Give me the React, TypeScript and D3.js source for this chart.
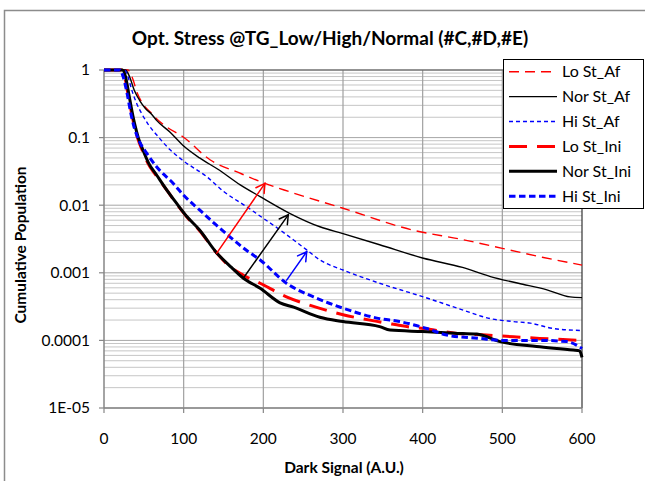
import React from "react";
import * as d3 from "d3";

type Pt = [number, number];

const title = "Opt. Stress @TG_Low/High/Normal (#C,#D,#E)";
const xTitle = "Dark Signal (A.U.)";
const yTitle = "Cumulative Population";
const xTicks = [0, 100, 200, 300, 400, 500, 600];
const yTickValues = [1, 0.1, 0.01, 0.001, 0.0001, 0.00001];
const yTickLabels = ["1", "0.1", "0.01", "0.001", "0.0001", "1E-05"];

const loStAf: Pt[] = [
  [0, 1], [30, 1], [35, 0.8], [42, 0.45], [50, 0.3], [58, 0.24], [64, 0.2], [80, 0.14],
  [99, 0.103], [133, 0.047], [170, 0.03], [202, 0.021], [233, 0.0158], [300, 0.009],
  [387, 0.0043], [450, 0.0031], [500, 0.0023], [550, 0.0017], [600, 0.0013],
];
const norStAf: Pt[] = [
  [0, 1], [27, 1], [32, 0.8], [38, 0.5], [45, 0.35], [52, 0.27], [60, 0.22], [66, 0.18],
  [83, 0.12], [100, 0.075], [120, 0.05], [143, 0.034], [171, 0.02], [196, 0.0134],
  [233, 0.0076], [271, 0.0048], [300, 0.0038], [346, 0.0026], [401, 0.00164],
  [450, 0.0012], [485, 0.00088], [520, 0.0007], [556, 0.00056], [585, 0.00044], [600, 0.00043],
];
const hiStAf: Pt[] = [
  [0, 1], [26, 1], [30, 0.8], [35, 0.5], [41, 0.32], [47, 0.23], [55, 0.16], [66, 0.11],
  [83, 0.066], [100, 0.045], [129, 0.0264], [150, 0.016], [179, 0.0095], [200, 0.0064],
  [221, 0.0043], [254, 0.0022], [271, 0.00155], [300, 0.0011], [346, 0.0007],
  [401, 0.00044], [451, 0.00028], [485, 0.00021], [514, 0.00019], [535, 0.00018],
  [564, 0.00015], [600, 0.00014],
];
const loStIni: Pt[] = [
  [0, 1], [22, 1], [26, 0.8], [30, 0.45], [34, 0.25], [38, 0.15], [42, 0.1], [48, 0.065],
  [55, 0.042], [66, 0.027], [80, 0.016], [91, 0.0105], [104, 0.0067], [120, 0.0042],
  [141, 0.002], [158, 0.00123], [175, 0.00092], [196, 0.0007], [229, 0.00044],
  [259, 0.00033], [300, 0.00024], [355, 0.00018], [380, 0.00016], [401, 0.00015],
  [443, 0.000127], [480, 0.00012], [514, 0.000113], [547, 0.000107], [600, 0.0001],
];
const norStIni: Pt[] = [
  [0, 1], [23, 1], [27, 0.8], [31, 0.45], [35, 0.25], [39, 0.15], [43, 0.1], [49, 0.065],
  [56, 0.042], [66, 0.028], [80, 0.016], [91, 0.0107], [104, 0.0068], [120, 0.0043],
  [141, 0.002], [160, 0.0012], [175, 0.00083], [196, 0.00059], [221, 0.00036],
  [238, 0.00031], [271, 0.00022], [300, 0.00019], [346, 0.00016], [359, 0.000142],
  [400, 0.000135], [440, 0.000128], [468, 0.000124], [497, 0.000096], [543, 0.000081],
  [589, 0.000072], [597, 0.00007], [600, 0.000056],
];
const hiStIni: Pt[] = [
  [0, 1], [20, 1], [24, 0.8], [29, 0.45], [33, 0.25], [38, 0.14], [44, 0.09], [54, 0.058],
  [66, 0.037], [87, 0.021], [100, 0.014], [120, 0.0085], [140, 0.0052], [158, 0.0034],
  [180, 0.0021], [196, 0.00155], [229, 0.0007], [263, 0.00044], [300, 0.0003],
  [346, 0.00021], [371, 0.00019], [405, 0.00015], [430, 0.00012], [472, 0.000107],
  [497, 0.0001], [547, 0.0001], [581, 0.000096], [600, 0.000076],
];

const seriesNames = ["Lo St_Af", "Nor St_Af", "Hi St_Af", "Lo St_Ini", "Nor St_Ini", "Hi St_Ini"];
const seriesData = [loStAf, norStAf, hiStAf, loStIni, norStIni, hiStIni];
const seriesColors = ["#ff0000", "#000000", "#0000ff", "#ff0000", "#000000", "#0000ff"];
const seriesWidths = [1.4, 1.4, 1.4, 3, 3, 3];
const seriesDash = ["10,6", "", "4,3", "18,10", "", "6.5,3.5"];

const arrowRed: Pt[] = [[141.5, 0.00195], [202, 0.021]];
const arrowBlack: Pt[] = [[174.8, 0.00083], [231.3, 0.0072]];
const arrowBlue: Pt[] = [[229.3, 0.00078], [254.4, 0.00205]];
const arrows = [arrowRed, arrowBlack, arrowBlue];
const arrowColors = ["#ff0000", "#000000", "#0000ff"];

const FONT = "Lato, 'Open Sans', sans-serif";

export default function App() {
  const left = 104, right = 582, top = 70, bottom = 408;
  const x = d3.scaleLinear().domain([0, 600]).range([left, right]);
  const y = d3.scaleLog().domain([1e-5, 1]).range([bottom, top]);

  const minor: number[] = [];
  for (let e = -5; e < 0; e++) {
    for (let m = 2; m <= 9; m++) minor.push(m * Math.pow(10, e));
  }

  const line = d3
    .line<Pt>()
    .x((d) => x(d[0]))
    .y((d) => y(d[1]))
    .curve(d3.curveMonotoneX);

  const legX = 503, legY = 59, legW = 140, legH = 149;

  return (
    <svg width={645} height={481} style={{ position: "absolute", left: 0, top: 0, background: "#fff" }}>
      <rect x={0} y={0} width={645} height={481} fill="#fff" />
      <rect x={4.5} y={10.5} width={700} height={600} fill="none" stroke="#8c8c8c" strokeWidth={1.5} />
      <text x={330} y={45} textAnchor="middle" fontFamily={FONT} fontWeight="bold" fontSize={19} fill="#000">
        {title}
      </text>

      {/* gridlines */}
      {minor.map((v, i) => (
        <line key={"m" + i} x1={left} x2={right} y1={y(v)} y2={y(v)} stroke="#c6c6c6" strokeWidth={1} />
      ))}
      {yTickValues.map((v, i) => (
        <line key={"M" + i} x1={left} x2={right} y1={y(v)} y2={y(v)} stroke="#a6a6a6" strokeWidth={1} />
      ))}
      {xTicks.slice(1, -1).map((v, i) => (
        <line key={"v" + i} x1={x(v)} x2={x(v)} y1={top} y2={bottom} stroke="#a0a0a0" strokeWidth={1.2} />
      ))}
      <line x1={left} x2={right} y1={top} y2={top} stroke="#555" strokeWidth={1.2} />
      <line x1={right} x2={right} y1={top} y2={bottom} stroke="#333" strokeWidth={1.2} />

      {/* axes */}
      <line x1={left} x2={left} y1={top} y2={bottom} stroke="#868686" strokeWidth={1.5} />
      <line x1={left} x2={right} y1={bottom} y2={bottom} stroke="#868686" strokeWidth={1.5} />
      {yTickValues.map((v, i) => (
        <g key={"yt" + i}>
          <line x1={left - 5} x2={left} y1={y(v)} y2={y(v)} stroke="#868686" strokeWidth={1.2} />
          <text x={left - 14} y={y(v)} dy="0.35em" textAnchor="end" fontFamily={FONT} fontSize={15.5} fill="#000">
            {yTickLabels[i]}
          </text>
        </g>
      ))}
      {xTicks.map((v, i) => (
        <g key={"xt" + i}>
          <line x1={x(v)} x2={x(v)} y1={bottom} y2={bottom + 5} stroke="#868686" strokeWidth={1.2} />
          <text x={x(v)} y={439} dy="0.35em" textAnchor="middle" fontFamily={FONT} fontSize={15.5} fill="#000">
            {String(v)}
          </text>
        </g>
      ))}
      <text x={344} y={468} dy="0.35em" textAnchor="middle" fontFamily={FONT} fontWeight="bold" fontSize={15.5} fill="#000">
        {xTitle}
      </text>
      <text
        transform={`translate(21,245) rotate(-90)`}
        dy="0.35em"
        textAnchor="middle"
        fontFamily={FONT}
        fontWeight="bold"
        fontSize={15.5}
        fill="#000"
      >
        {yTitle}
      </text>

      {/* series */}
      {seriesData.map((d, i) => (
        <path
          key={"s" + i}
          d={line(d) || ""}
          fill="none"
          stroke={seriesColors[i]}
          strokeWidth={seriesWidths[i]}
          strokeDasharray={seriesDash[i] || undefined}
          strokeLinejoin="round"
        />
      ))}

      {/* arrows */}
      {arrows.map((a, i) => {
        const x1 = x(a[0][0]), y1 = y(a[0][1]), x2 = x(a[1][0]), y2 = y(a[1][1]);
        const ang = Math.atan2(y2 - y1, x2 - x1);
        const L = 10, spread = Math.PI / 6;
        const p1 = [x2 - L * Math.cos(ang - spread), y2 - L * Math.sin(ang - spread)];
        const p2 = [x2 - L * Math.cos(ang + spread), y2 - L * Math.sin(ang + spread)];
        return (
          <g key={"a" + i} stroke={arrowColors[i]} strokeWidth={1.5} fill="none" strokeLinecap="round">
            <line x1={x1} y1={y1} x2={x2} y2={y2} />
            <polyline points={`${p1[0]},${p1[1]} ${x2},${y2} ${p2[0]},${p2[1]}`} />
          </g>
        );
      })}

      {/* legend */}
      <rect x={legX + 0.5} y={legY + 0.5} width={legW} height={legH} fill="#fff" stroke="#000" strokeWidth={1} />
      {seriesNames.map((n, i) => {
        const cy = legY + 12.7 + i * 24.9;
        return (
          <g key={"l" + i}>
            <line
              x1={legX + 6}
              x2={legX + 54}
              y1={cy}
              y2={cy}
              stroke={seriesColors[i]}
              strokeWidth={seriesWidths[i]}
              strokeDasharray={seriesDash[i] || undefined}
            />
            <text x={legX + 59} y={cy} dy="0.35em" fontFamily={FONT} fontSize={16} fill="#000">
              {n}
            </text>
          </g>
        );
      })}
    </svg>
  );
}
